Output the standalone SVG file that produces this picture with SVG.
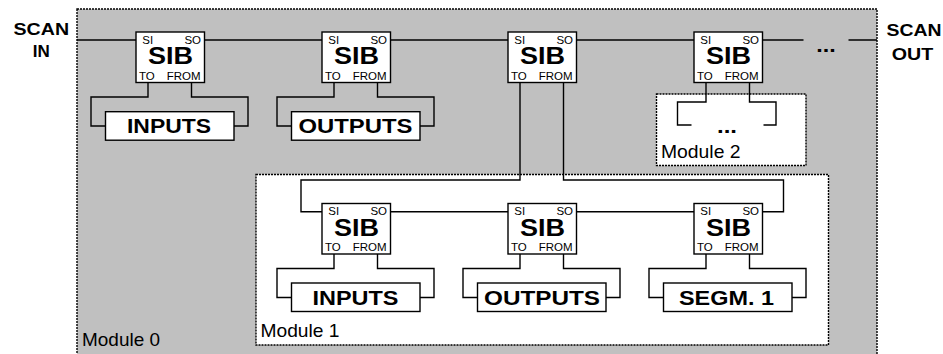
<svg xmlns="http://www.w3.org/2000/svg" width="943" height="354" viewBox="0 0 943 354">
  <style>
    .mod { stroke: #000; stroke-width: 1.4; stroke-dasharray: 2 1; }
    .box { fill: #fff; stroke: #000; stroke-width: 1.4; }
    .wire { fill: none; stroke: #000; stroke-width: 1.4; }
    .big { font-family: "Liberation Sans", Arial, sans-serif; font-weight: bold; font-size: 24px; fill: #000; text-anchor: middle; }
    .pin { font-family: "Liberation Sans", Arial, sans-serif; font-size: 11.5px; fill: #000; }
    .lbl { font-family: "Liberation Sans", Arial, sans-serif; font-weight: bold; font-size: 21px; fill: #000; text-anchor: middle; }
    .port { font-family: "Liberation Sans", Arial, sans-serif; font-weight: bold; font-size: 17px; fill: #000; text-anchor: middle; }
    .modname { font-family: "Liberation Sans", Arial, sans-serif; font-size: 18.5px; fill: #000; }
  </style>

  <!-- module frames -->
  <g id="module0">
    <rect class="mod" x="77" y="9" width="800" height="350" fill="#c0c0c0"/>
    <text class="modname" x="82" y="346" textLength="78" lengthAdjust="spacingAndGlyphs">Module 0</text>
  </g>
  <g id="module1">
    <rect class="mod" x="256" y="174.5" width="572.5" height="170.5" fill="#fff"/>
    <text class="modname" x="260.5" y="336.5" textLength="79" lengthAdjust="spacingAndGlyphs">Module 1</text>
  </g>
  <g id="module2">
    <rect class="mod" x="656.5" y="94" width="149.5" height="71.5" fill="#fff"/>
    <text class="modname" x="661" y="157.5" textLength="79.5" lengthAdjust="spacingAndGlyphs">Module 2</text>
    <text class="lbl" x="727" y="133" textLength="20" lengthAdjust="spacingAndGlyphs">...</text>
  </g>

  <!-- scan chain and segment wiring -->
  <g id="connectors">
    <!-- top-level scan path -->
    <path class="wire" d="M77 40H136 M204.5 40H322 M390.5 40H508 M576.5 40H694 M762.5 40H803.5 M848.5 40H877"/>
    <!-- SIB 1 to INPUTS -->
    <path class="wire" d="M148 82.5V97H91V126H105.5 M191.5 82.5V97H248V126H234"/>
    <!-- SIB 2 to OUTPUTS -->
    <path class="wire" d="M334 82.5V97H277V126H291.5 M377.5 82.5V97H434V126H420"/>
    <!-- SIB 3 into Module 1 -->
    <path class="wire" d="M520 82.5V180H301V211.7H322 M563.5 82.5V180H783.5V211.7H762.5"/>
    <!-- SIB 7 into Module 2 -->
    <path class="wire" d="M706 82.5V102H677.5V125H691.5 M749.5 82.5V102H776V125H763.5"/>
    <!-- Module 1 internal scan path -->
    <path class="wire" d="M390.5 211.7H508 M576.5 211.7H694"/>
    <!-- Module 1 segments -->
    <path class="wire" d="M334 254V268.5H277V297.5H291.5 M377.5 254V268.5H434V297.5H420"/>
    <path class="wire" d="M520 254V268.5H463V297.5H477.5 M563.5 254V268.5H620V297.5H606"/>
    <path class="wire" d="M706 254V268.5H649V297.5H663.5 M749.5 254V268.5H806V297.5H792"/>
  </g>

  <!-- scan ports -->
  <g id="scan-in">
    <text class="port" x="41.3" y="34.7" textLength="55.5" lengthAdjust="spacingAndGlyphs">SCAN</text>
    <text class="port" x="41.3" y="56.7">IN</text>
  </g>
  <g id="scan-out">
    <text class="port" x="914" y="35.5" textLength="55" lengthAdjust="spacingAndGlyphs">SCAN</text>
    <text class="port" x="912.5" y="59.5" textLength="41.5" lengthAdjust="spacingAndGlyphs">OUT</text>
    <text class="lbl" x="826" y="51.5" textLength="19.5" lengthAdjust="spacingAndGlyphs">...</text>
  </g>

  <!-- SIB cells -->
  <g id="sib1">
    <rect class="box" x="136" y="32" width="68.5" height="50.5"/>
    <text class="pin" x="142.3" y="43.7">SI</text>
    <text class="pin" x="201" y="43.7" text-anchor="end">SO</text>
    <text class="big" x="170.5" y="64" textLength="45" lengthAdjust="spacingAndGlyphs">SIB</text>
    <text class="pin" x="139" y="79.7">TO</text>
    <text class="pin" x="200.5" y="79.7" text-anchor="end">FROM</text>
  </g>
  <g id="sib2">
    <rect class="box" x="322" y="32" width="68.5" height="50.5"/>
    <text class="pin" x="328.3" y="43.7">SI</text>
    <text class="pin" x="387" y="43.7" text-anchor="end">SO</text>
    <text class="big" x="356.5" y="64" textLength="45" lengthAdjust="spacingAndGlyphs">SIB</text>
    <text class="pin" x="325" y="79.7">TO</text>
    <text class="pin" x="386.5" y="79.7" text-anchor="end">FROM</text>
  </g>
  <g id="sib3">
    <rect class="box" x="508" y="32" width="68.5" height="50.5"/>
    <text class="pin" x="514.3" y="43.7">SI</text>
    <text class="pin" x="573" y="43.7" text-anchor="end">SO</text>
    <text class="big" x="542.5" y="64" textLength="45" lengthAdjust="spacingAndGlyphs">SIB</text>
    <text class="pin" x="511" y="79.7">TO</text>
    <text class="pin" x="572.5" y="79.7" text-anchor="end">FROM</text>
  </g>
  <g id="sib7">
    <rect class="box" x="694" y="32" width="68.5" height="50.5"/>
    <text class="pin" x="700.3" y="43.7">SI</text>
    <text class="pin" x="759" y="43.7" text-anchor="end">SO</text>
    <text class="big" x="728.5" y="64" textLength="45" lengthAdjust="spacingAndGlyphs">SIB</text>
    <text class="pin" x="697" y="79.7">TO</text>
    <text class="pin" x="758.5" y="79.7" text-anchor="end">FROM</text>
  </g>
  <g id="sib4">
    <rect class="box" x="322" y="203.5" width="68.5" height="50.5"/>
    <text class="pin" x="328.3" y="215.2">SI</text>
    <text class="pin" x="387" y="215.2" text-anchor="end">SO</text>
    <text class="big" x="356.5" y="235.5" textLength="45" lengthAdjust="spacingAndGlyphs">SIB</text>
    <text class="pin" x="325" y="251.2">TO</text>
    <text class="pin" x="386.5" y="251.2" text-anchor="end">FROM</text>
  </g>
  <g id="sib5">
    <rect class="box" x="508" y="203.5" width="68.5" height="50.5"/>
    <text class="pin" x="514.3" y="215.2">SI</text>
    <text class="pin" x="573" y="215.2" text-anchor="end">SO</text>
    <text class="big" x="542.5" y="235.5" textLength="45" lengthAdjust="spacingAndGlyphs">SIB</text>
    <text class="pin" x="511" y="251.2">TO</text>
    <text class="pin" x="572.5" y="251.2" text-anchor="end">FROM</text>
  </g>
  <g id="sib6">
    <rect class="box" x="694" y="203.5" width="68.5" height="50.5"/>
    <text class="pin" x="700.3" y="215.2">SI</text>
    <text class="pin" x="759" y="215.2" text-anchor="end">SO</text>
    <text class="big" x="728.5" y="235.5" textLength="45" lengthAdjust="spacingAndGlyphs">SIB</text>
    <text class="pin" x="697" y="251.2">TO</text>
    <text class="pin" x="758.5" y="251.2" text-anchor="end">FROM</text>
  </g>

  <!-- instrument segments -->
  <g id="inputs0">
    <rect class="box" x="105.5" y="111.7" width="128.5" height="28.5"/>
    <text class="lbl" x="169" y="133" textLength="84" lengthAdjust="spacingAndGlyphs">INPUTS</text>
  </g>
  <g id="outputs0">
    <rect class="box" x="291.5" y="111.7" width="128.5" height="28.5"/>
    <text class="lbl" x="355.5" y="133" textLength="114" lengthAdjust="spacingAndGlyphs">OUTPUTS</text>
  </g>
  <g id="inputs1">
    <rect class="box" x="291.5" y="283" width="128.5" height="28.5"/>
    <text class="lbl" x="355.5" y="304.5" textLength="86" lengthAdjust="spacingAndGlyphs">INPUTS</text>
  </g>
  <g id="outputs1">
    <rect class="box" x="477.5" y="283" width="128.5" height="28.5"/>
    <text class="lbl" x="542" y="304.5" textLength="116" lengthAdjust="spacingAndGlyphs">OUTPUTS</text>
  </g>
  <g id="segm1">
    <rect class="box" x="663.5" y="283" width="128.5" height="28.5"/>
    <text class="lbl" x="726.5" y="304.5" textLength="95" lengthAdjust="spacingAndGlyphs">SEGM. 1</text>
  </g>
</svg>
